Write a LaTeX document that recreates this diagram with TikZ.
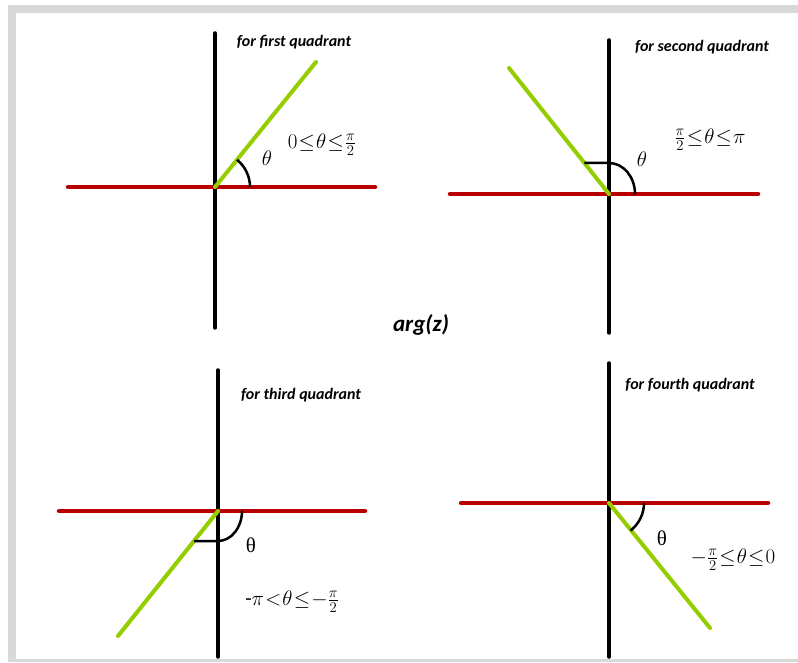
\RequirePackage{fix-cm}
\documentclass[tikz,border=0pt]{standalone}
\usepackage[no-math]{fontspec}
\usepackage{amsmath}
\setmainfont{Carlito}
\newfontfamily\grkfont{Liberation Serif}
\usepackage{xcolor}
\definecolor{realred}{RGB}{185,0,0}
\definecolor{raygreen}{RGB}{150,205,0}
\definecolor{framegray}{RGB}{217,217,217}

\begin{document}
\begin{tikzpicture}[x=1pt,y=1pt]
        % 스타일 정의
        \tikzset{axisline/.style={line width=3.5pt, black, line cap=round}}
        \tikzset{realline/.style={line width=4.5pt, realred, line cap=round}}
        \tikzset{rayline/.style={line width=4pt, raygreen, line cap=round}}
        \tikzset{anglemark/.style={line width=2.5pt, black}}
        \tikzset{quadtitle/.style={font=\fontsize{16}{18}\selectfont\bfseries\itshape}}
        \tikzset{rangelabel/.style={font=\fontsize{21}{23}\selectfont, inner sep=1pt, execute at begin node={\thickmuskip=1mu\relax}}}
        \tikzset{thetalabel/.style={font=\fontsize{21}{23}\selectfont, inner sep=1pt}}

        % 0. 바깥 틀
        \useasboundingbox (0,0) rectangle (798,662);
        \fill[framegray] (8,0) rectangle (798,657);
        \fill[white] (16,3) rectangle (798,649);

        % 1. 제1사분면
        \begin{scope}[shift={(215,475)}]
            \coordinate (O1) at (0,0);
            \coordinate (up1) at (0,154);
            \coordinate (dn1) at (0,-141);
            \coordinate (lf1) at (-147,0);
            \coordinate (rt1) at (160,0);
            \coordinate (ray1) at (101,125);
            \draw[axisline] (up1) -- (dn1);
            \draw[realline] (lf1) -- (rt1);
            \draw[rayline] (O1) -- (ray1);
            \draw[anglemark] (35,0) arc[start angle=0, end angle=51, radius=35];
            \node[thetalabel] (th1) at (52,29) {$\theta$};
            \node[rangelabel] (rng1) at (107,42) {$0\leq\theta\leq\frac{\pi}{2}$};
            \node[quadtitle] (ttl1) at (79,145) {for first quadrant};
        \end{scope}

        % 2. 제2사분면
        \begin{scope}[shift={(609,468)}]
            \coordinate (O2) at (0,0);
            \coordinate (up2) at (0,154);
            \coordinate (dn2) at (0,-139);
            \coordinate (lf2) at (-159,0);
            \coordinate (rt2) at (149,0);
            \coordinate (ray2) at (-100,126);
            \coordinate (hk2) at (-24.6,31);
            \draw[axisline] (up2) -- (dn2);
            \draw[realline] (lf2) -- (rt2);
            \draw[rayline] (O2) -- (ray2);
            \draw[anglemark] (hk2) -- (0,31) arc[start angle=90, end angle=0, x radius=26, y radius=31];
            \node[thetalabel] (th2) at (33,35) {$\theta$};
            \node[rangelabel] (rng2) at (101,54) {$\frac{\pi}{2}\leq\theta\leq\pi$};
            \node[quadtitle] (ttl2) at (93,147) {for second quadrant};
        \end{scope}

        % 가운데 글자
        \node[font=\fontsize{23}{26}\selectfont\bfseries\itshape] (argz) at (421,337) {arg(z)};

        % 3. 제3사분면
        \begin{scope}[shift={(218,151)}]
            \coordinate (O3) at (0,0);
            \coordinate (up3) at (0,141);
            \coordinate (dn3) at (0,-146);
            \coordinate (lf3) at (-159,0);
            \coordinate (rt3) at (147,0);
            \coordinate (ray3) at (-100,-125);
            \coordinate (hk3) at (-24,-30);
            \draw[axisline] (up3) -- (dn3);
            \draw[realline] (lf3) -- (rt3);
            \draw[rayline] (O3) -- (ray3);
            \draw[anglemark] (hk3) -- (0,-30) arc[start angle=-90, end angle=0, x radius=24, y radius=30];
            \node[thetalabel] (th3) at (33,-34) {\grkfont θ};
            \node[rangelabel] (rng3) at (74,-91) {$\text{-}\pi<\theta\leq-\frac{\pi}{2}$};
            \node[quadtitle] (ttl3) at (83,116) {for third quadrant};
        \end{scope}

        % 4. 제4사분면
        \begin{scope}[shift={(609,159)}]
            \coordinate (O4) at (0,0);
            \coordinate (up4) at (0,140);
            \coordinate (dn4) at (0,-154);
            \coordinate (lf4) at (-148,0);
            \coordinate (rt4) at (159,0);
            \coordinate (ray4) at (101,-125);
            \draw[axisline] (up4) -- (dn4);
            \draw[realline] (lf4) -- (rt4);
            \draw[rayline] (O4) -- (ray4);
            \draw[anglemark] (35,0) arc[start angle=0, end angle=-52, radius=35];
            \node[thetalabel] (th4) at (53,-35) {\grkfont θ};
            \node[rangelabel] (rng4) at (124,-57) {$-\frac{\pi}{2}\leq\theta\leq0$};
            \node[quadtitle] (ttl4) at (81,118) {for fourth quadrant};
        \end{scope}
\end{tikzpicture}
\end{document}
